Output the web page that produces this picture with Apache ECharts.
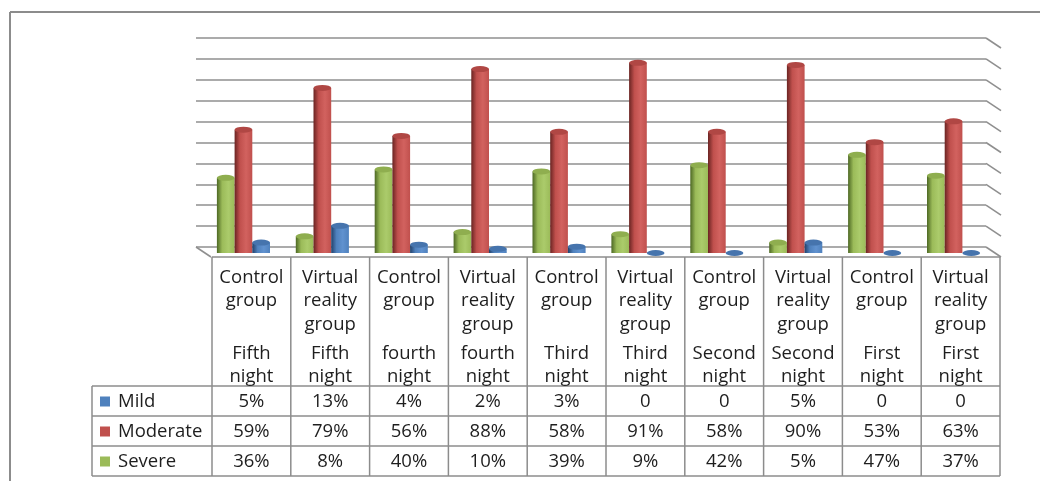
<!DOCTYPE html>
<html><head><meta charset="utf-8">
<script src="https://cdn.jsdelivr.net/npm/echarts@6/dist/echarts.min.js"></script>
<style>html,body{margin:0;padding:0;background:#fff}#c{width:1040px;height:481px}</style>
</head><body><div id="c"></div>
<script>
// ---- data ----
const groups = ['Control group','Virtual reality group','Control group','Virtual reality group','Control group','Virtual reality group','Control group','Virtual reality group','Control group','Virtual reality group'];
const nights = ['Fifth night','Fifth night','fourth night','fourth night','Third night','Third night','Second night','Second night','First night','First night'];
const mild     = [5, 13, 4, 2, 3, 0, 0, 5, 0, 0];
const moderate = [59, 79, 56, 88, 58, 91, 58, 90, 53, 63];
const severe   = [36, 8, 40, 10, 39, 9, 42, 5, 47, 37];
const yMin = 0, yMax = 100, yInterval = 10;
const tableRowNames = ['Mild', 'Moderate', 'Severe'];

// ---- styling ----
const FONT = 'Open Sans';
const TXT = '#1e1e1e';
const LINE = '#8c8c8c';
const palette = {
  Severe:   {dark:'#4d6824', base:'#9bbb59', light:'#abcb6b', top:'#8fae4f'},
  Moderate: {dark:'#6a2422', base:'#c0504d', light:'#d2625f', top:'#b04744'},
  Mild:     {dark:'#22416b', base:'#4f81bd', light:'#6192cf', top:'#4674ad'}
};
const valuesByName = {Mild: mild, Moderate: moderate, Severe: severe};
const barOrder = ['Severe', 'Moderate', 'Mild'];
const BW = 17.7;
const DX = 15, DY = 10;

function cyl(c) {
  return new echarts.graphic.LinearGradient(0, 0, 1, 0, [
    {offset: 0, color: c.dark},
    {offset: 0.3, color: c.base},
    {offset: 0.65, color: c.light},
    {offset: 1, color: c.base}
  ]);
}

const series = [];
barOrder.forEach(name => {
  series.push({
    type: 'bar', name, xAxisIndex: 1, yAxisIndex: 1,
    data: valuesByName[name], barWidth: BW, barGap: '0%',
    itemStyle: {color: cyl(palette[name])}, z: 3, silent: true
  });
});
barOrder.forEach(name => {
  series.push({
    type: 'pictorialBar', name: name + ' top', xAxisIndex: 1, yAxisIndex: 1,
    data: valuesByName[name], barWidth: BW, barGap: '0%',
    symbol: 'circle', symbolSize: [BW, 6], symbolPosition: 'end', symbolOffset: [0, '-50%'],
    itemStyle: {color: palette[name].top}, z: 4, silent: true
  });
});

const option = {
  animation: false,
  backgroundColor: '#ffffff',
  grid: [
    {left: 196, right: 54, top: 38, height: 209},
    {left: 204, right: 47, top: 44, height: 209},
    {left: 212, right: 40, top: 257, height: 219}
  ],
  xAxis: [
    {gridIndex: 0, type: 'value', min: 0, max: 1, show: false},
    {gridIndex: 1, type: 'category', data: groups, show: false},
    {gridIndex: 2, type: 'category', data: groups, show: false}
  ],
  yAxis: [
    {gridIndex: 0, type: 'value', min: yMin, max: yMax, interval: yInterval,
     axisLine: {show: false}, axisTick: {show: false}, axisLabel: {show: false},
     splitLine: {show: true, lineStyle: {color: '#8f8f8f', width: 1.6}}},
    {gridIndex: 1, type: 'value', min: yMin, max: yMax, show: false},
    {gridIndex: 2, type: 'value', min: 0, max: 1, show: false}
  ],
  series
};

const chart = echarts.init(document.getElementById('c'));
chart.setOption(option);

// ---- graphics: frame, 3D edges, data table ----
const g = [];
const ln = (x1, y1, x2, y2, w, c) => ({type: 'line', shape: {x1, y1, x2, y2}, style: {stroke: c || LINE, lineWidth: w || 1.5}, silent: true, z: 10});
g.push(ln(10, 12, 1040, 12, 2, '#8c8c8c'));
g.push(ln(10, 12, 10, 481, 2, '#8c8c8c'));

for (let v = yMin; v <= yMax; v += yInterval) {
  const p = chart.convertToPixel({gridIndex: 0}, [1, v]);
  g.push(ln(p[0], p[1], p[0] + DX, p[1] + DY, 1.6, '#8f8f8f'));
}
const p0 = chart.convertToPixel({gridIndex: 0}, [0, 0]);
g.push(ln(p0[0], p0[1], p0[0] + DX, p0[1] + DY, 1.6, '#8f8f8f'));

const n = groups.length;
const c0 = chart.convertToPixel({xAxisIndex: 2}, 0);
const c1 = chart.convertToPixel({xAxisIndex: 2}, 1);
const band = c1 - c0;
const tLeft = c0 - band / 2;
const tRight = tLeft + band * n;
const tTop = chart.convertToPixel({gridIndex: 2}, [0, 1])[1];
const tBottom = chart.convertToPixel({gridIndex: 2}, [0, 0])[1];
const rowH = 30;
const headBottom = tBottom - rowH * tableRowNames.length;
const legLeft = 92;

g.push(ln(tLeft, tTop, tRight, tTop));
for (let k = 0; k <= n; k++) {
  const x = tLeft + k * band;
  g.push(ln(x, tTop, x, tBottom));
}
for (let r = 0; r <= tableRowNames.length; r++) {
  const y = headBottom + r * rowH;
  g.push(ln(legLeft, y, tRight, y));
}
g.push(ln(legLeft, headBottom, legLeft, tBottom));

const txt = (x, y, text, align, va) => ({type: 'text', x, y, silent: true, z: 11,
  style: {text, fill: TXT, fontFamily: FONT, fontSize: 18.5,
          align: align || 'center', verticalAlign: va || 'middle', lineHeight: 23.5}});

for (let i = 0; i < n; i++) {
  const cx = tLeft + (i + 0.5) * band;
  g.push(txt(cx, tTop + 8.5, groups[i].split(' ').join('\n'), 'center', 'top'));
  g.push(txt(cx, tTop + 84.5, nights[i].split(' ').join('\n'), 'center', 'top'));
}
tableRowNames.forEach((name, r) => {
  const cy = headBottom + (r + 0.5) * rowH + 0.5;
  g.push({type: 'rect', shape: {x: 100, y: cy - 5, width: 10, height: 10}, style: {fill: palette[name].base}, silent: true, z: 11});
  g.push(txt(118, cy, name, 'left', 'middle'));
  valuesByName[name].forEach((v, i) => {
    const cx = tLeft + (i + 0.5) * band;
    g.push(txt(cx, cy, v === 0 ? '0' : v + '%', 'center', 'middle'));
  });
});

chart.setOption({graphic: g});
</script>
</body></html>
